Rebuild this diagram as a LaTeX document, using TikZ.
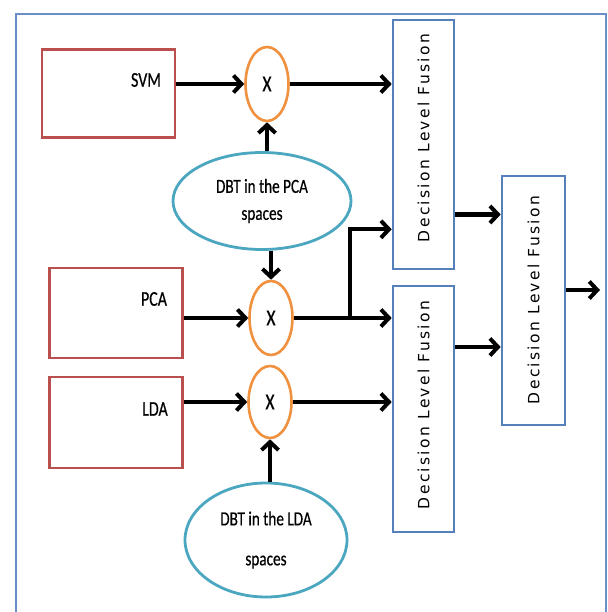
\documentclass[tikz,border=0pt]{standalone}
\usepackage{fontspec}
\usetikzlibrary{arrows.meta,shapes.geometric}
\newfontfamily\labfont[FakeStretch=0.76,FakeBold=0.5]{Carlito}
\newfontfamily\fusionfont[LetterSpace=15]{DejaVu Sans}
\definecolor{boxred}{HTML}{B9504D}
\definecolor{ringorange}{HTML}{F0913F}
\definecolor{ovalteal}{HTML}{4BA6C0}
\definecolor{fuseblue}{HTML}{5580BA}
\definecolor{frameblue}{HTML}{6A8FC6}
\tikzset{
  srcbox/.style={draw=boxred, line width=2.6pt, minimum width=133pt, minimum height=88pt, inner sep=0pt},
  srclabel/.style={font=\labfont\fontsize{21}{22}\selectfont, inner sep=0pt},
  ring/.style={draw=ringorange, line width=2.6pt, ellipse, minimum width=43pt, minimum height=74pt, inner sep=0pt,
    font=\labfont\fontsize{23}{23}\selectfont},
  oval/.style={draw=ovalteal, line width=2.8pt, ellipse, inner sep=0pt, align=center,
    font=\labfont\fontsize{20}{27}\selectfont},
  fusebox/.style={draw=fuseblue, line width=2.6pt, minimum width=61pt, inner sep=0pt},
  fusetext/.style={rotate=90, inner sep=0pt, font=\fusionfont\fontsize{15.5}{16}\selectfont},
  arr/.style={line width=4pt, -{Straight Barb[length=8pt,width=17pt]}},
}
\begin{document}
\begin{tikzpicture}[x=1pt,y=1pt]
\useasboundingbox (0,0) rectangle (607,-612);
\clip (0,0) rectangle (607,-612);
% outer frame, running past the bottom edge
\draw[frameblue, line width=2.6pt] (16,-14) rectangle (606,-640);

% classifier boxes
\node[srcbox] (svm) at (108.5,-93.5) {};
\node[srclabel] (svmt) at (146,-80) {SVM};
\node[srcbox, minimum height=90pt] (pca) at (116,-313) {};
\node[srclabel] (pcat) at (154,-299) {PCA};
\node[srcbox, minimum height=91pt] (lda) at (116,-422.5) {};
\node[srclabel] (ldat) at (155,-409) {LDA};

% multipliers
\node[ring] (x1) at (267,-84) {X};
\node[ring] (x2) at (271,-318) {X};
\node[ring, minimum height=72pt] (x3) at (270,-402) {X};

% DBT ovals
\node[oval, minimum width=178pt, minimum height=97pt] (dbtp) at (262,-201) {DBT in the PCA\\spaces};
\node[oval, minimum width=162pt, minimum height=114pt, font=\labfont\fontsize{20}{40}\selectfont]
  (dbtl) at (266,-540) {DBT in the LDA\\spaces};

% fusion boxes
\node[fusebox, minimum height=249pt] (dlf1) at (423.5,-144.5) {};
\node[fusetext] (dlf1t) at (423.5,-138) {Decision Level  Fusion};
\node[fusebox, minimum height=246pt] (dlf2) at (423.5,-409) {};
\node[fusetext] (dlf2t) at (423.5,-405) {Decision Level  Fusion};
\node[fusebox, minimum height=249pt, minimum width=63pt] (dlf3) at (533.5,-300.5) {};
\node[fusetext] (dlf3t) at (533.5,-300) {Decision Level  Fusion};

% connectors
\draw[arr] (svm.east |- x1) -- (x1.west);
\draw[arr] (x1.east) -- (x1.east -| dlf1.west);
\draw[arr] (dbtp.north -| x1.south) -- (x1.south);
\draw[arr] (dbtp.south -| x2.north) -- (x2.north);
\draw[arr] (pca.east |- x2) -- (x2.west);
\draw[arr] (x2.east) -- (x2.east -| dlf2.west);
\coordinate (br) at (350,-318);
\draw[arr] (br) |- ([yshift=41pt]dlf1.south west);
\draw[arr] (lda.east |- x3) -- (x3.west);
\draw[arr] (x3.east) -- (x3.east -| dlf2.west);
\draw[arr] (dbtl.north -| x3.south) -- (x3.south);
\draw[arr] ([yshift=-70pt]dlf1.east) -- ([yshift=-70pt]dlf1.east -| dlf3.west);
\draw[arr] ([yshift=62pt]dlf2.east) -- ([yshift=62pt]dlf2.east -| dlf3.west);
\coordinate (out) at (600,-290);
\draw[arr] (dlf3.east |- out) -- (out);
\end{tikzpicture}
\end{document}
